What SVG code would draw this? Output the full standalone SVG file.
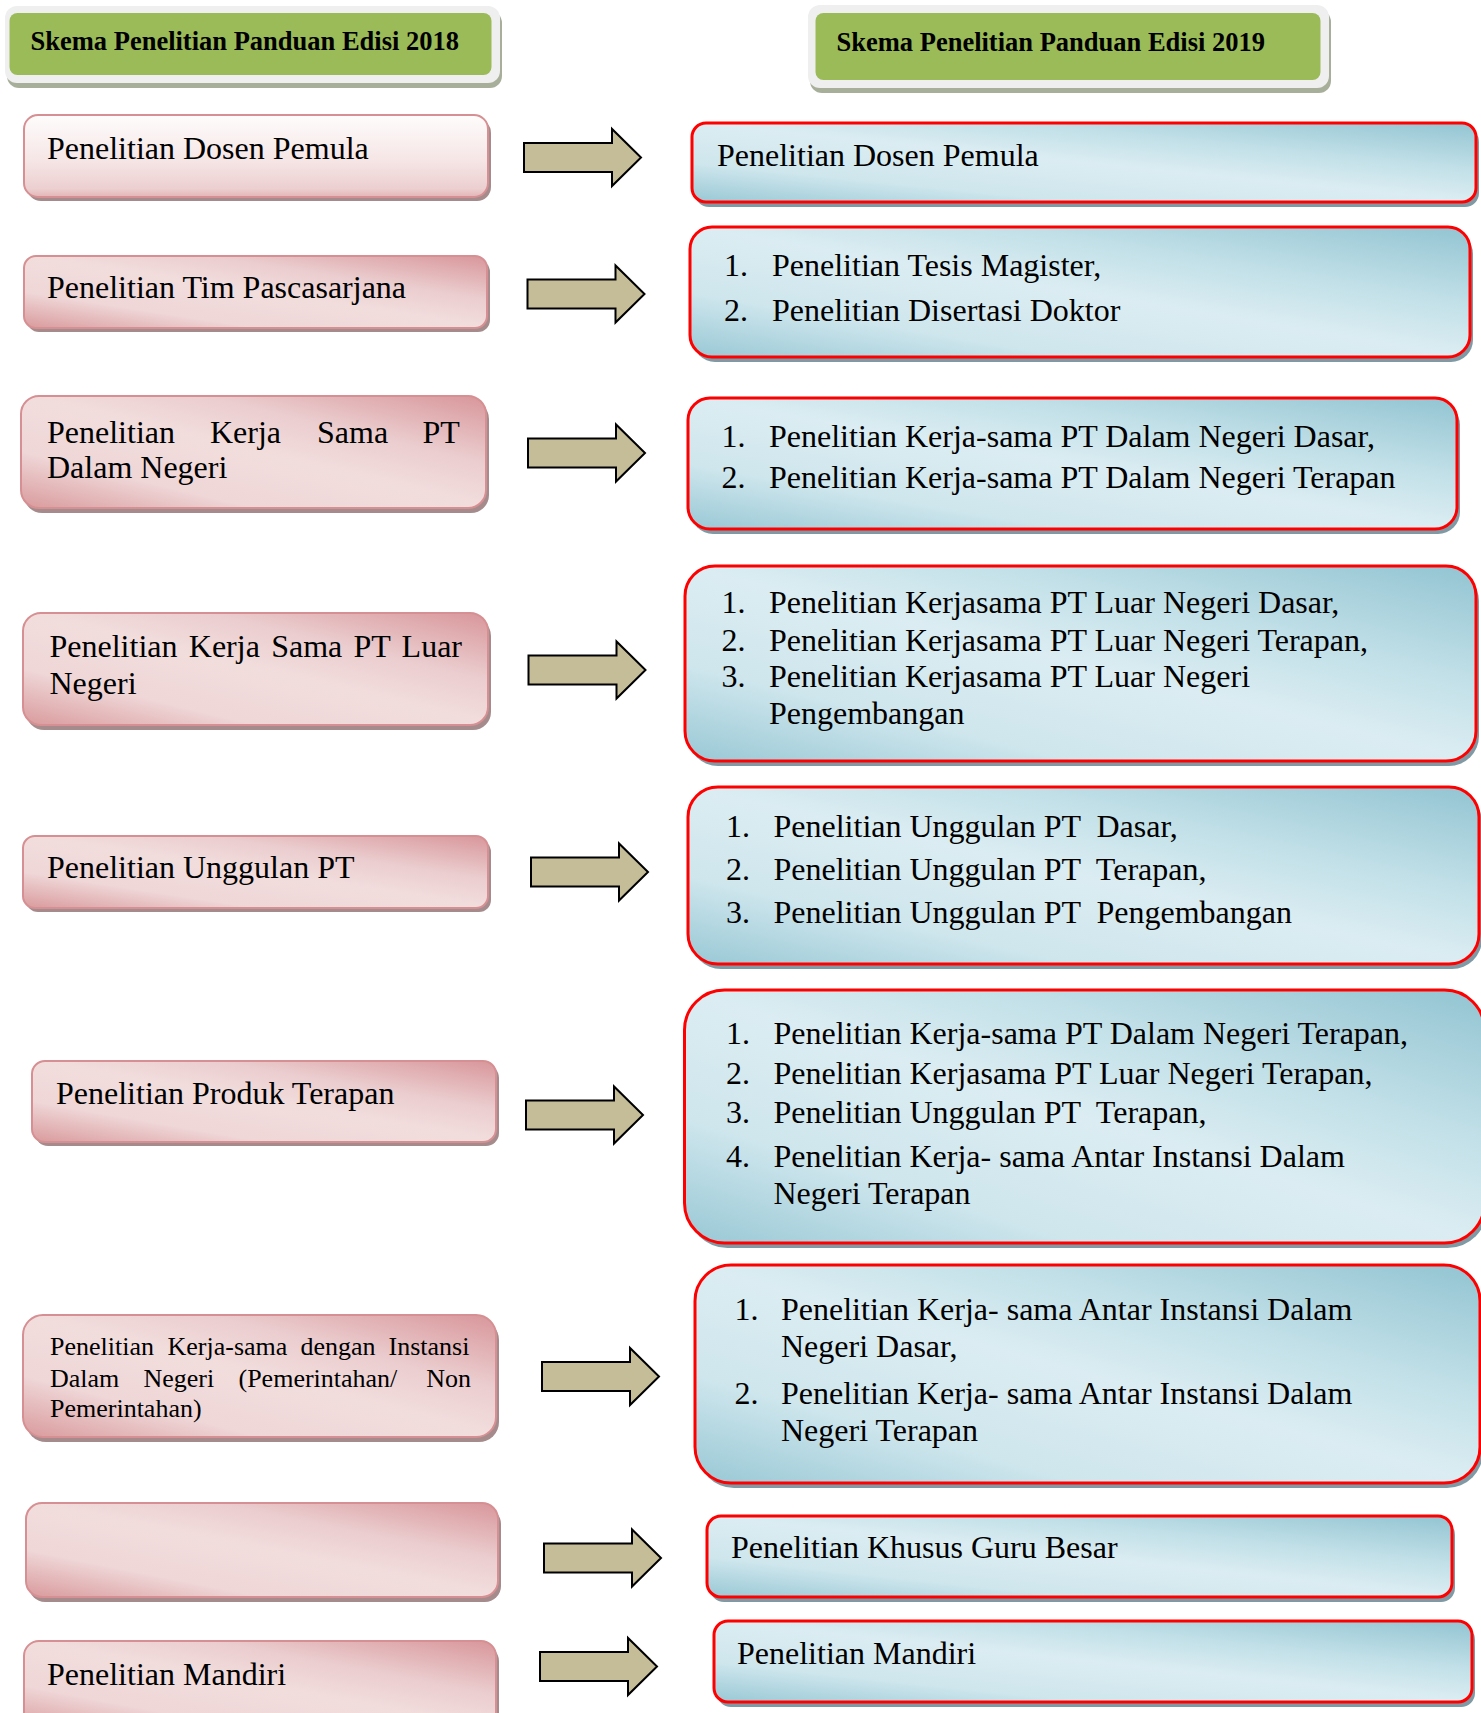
<svg xmlns="http://www.w3.org/2000/svg" width="1481" height="1713" viewBox="0 0 1481 1713">
<style>
text{font-family:"Liberation Serif","Times New Roman",serif;fill:#000}
.t{font-size:32px}
.s{font-size:26px}
.h{font-size:26.5px;font-weight:bold}
.pk{fill:url(#pink);stroke:#d68f92;stroke-width:2}
.pk1{fill:url(#pinkTop);stroke:#d68f92;stroke-width:2}
.pks{fill:#a58b8c}
.bl{fill:url(#blue);stroke:#ff0000;stroke-width:3}
.bls{fill:#7f9aa4}
.hf{fill:#efefef}
.hs{fill:#a7af9a}
.hg{fill:#9bbb59}
.arrow{fill:#c4bd97;stroke:#000;stroke-width:2;stroke-linejoin:miter}
</style>
<defs>
<linearGradient id="pink" x1="1" y1="0" x2="0" y2="1">
<stop offset="0" stop-color="#d8969a"/>
<stop offset="0.3" stop-color="#ebcdcf"/>
<stop offset="0.5" stop-color="#f2dddd"/>
<stop offset="0.75" stop-color="#efd6d7"/>
<stop offset="1" stop-color="#d99a9c"/>
</linearGradient>
<linearGradient id="pinkTop" x1="0" y1="0" x2="0" y2="1">
<stop offset="0" stop-color="#fefcfc"/>
<stop offset="0.55" stop-color="#f6e6e6"/>
<stop offset="0.9" stop-color="#eccfd0"/>
<stop offset="1" stop-color="#e3b5b7"/>
</linearGradient>
<linearGradient id="blue" x1="1" y1="0" x2="0" y2="1">
<stop offset="0" stop-color="#92c4d2"/>
<stop offset="0.3" stop-color="#c2e0e8"/>
<stop offset="0.5" stop-color="#dbedf2"/>
<stop offset="0.75" stop-color="#cfe6ed"/>
<stop offset="1" stop-color="#98c8d5"/>
</linearGradient>
</defs>
<rect width="1481" height="1713" fill="#ffffff"/>

<g id="header-2018">
<rect class="hs" x="7" y="11" width="495" height="77" rx="12"/>
<rect class="hf" x="5" y="6" width="495" height="77" rx="12"/>
<rect class="hg" x="9.5" y="13" width="482" height="62" rx="8"/>
<text class="h" x="30.5" y="50">Skema Penelitian Panduan Edisi 2018</text>
</g>
<g id="header-2019">
<rect class="hs" x="810" y="10" width="521" height="83" rx="12"/>
<rect class="hf" x="808" y="5" width="521" height="83" rx="12"/>
<rect class="hg" x="815.5" y="13" width="505" height="67" rx="8"/>
<text class="h" x="836.5" y="51">Skema Penelitian Panduan Edisi 2019</text>
</g>

<g id="left-1">
<rect class="pks" x="27" y="119" width="464" height="82" rx="14"/>
<rect class="pk1" x="24" y="115" width="464" height="82" rx="14"/>
<text class="t" x="47" y="159">Penelitian Dosen Pemula</text>
</g>
<g id="left-2">
<rect class="pks" x="27" y="260" width="463" height="72" rx="12"/>
<rect class="pk" x="24" y="256" width="463" height="72" rx="12"/>
<text class="t" x="47" y="298">Penelitian Tim Pascasarjana</text>
</g>
<g id="left-3">
<rect class="pks" x="24" y="401" width="465" height="112" rx="18"/>
<rect class="pk" x="21" y="396" width="465" height="112" rx="18"/>
<text class="t" y="442.5"><tspan x="47">Penelitian</tspan><tspan x="210">Kerja</tspan><tspan x="317">Sama</tspan><tspan x="422.5">PT</tspan></text>
<text class="t" x="47" y="478">Dalam Negeri</text>
</g>
<g id="left-4">
<rect class="pks" x="26" y="618" width="465" height="112" rx="18"/>
<rect class="pk" x="23" y="613" width="465" height="112" rx="18"/>
<text class="t" x="49.5" y="657" word-spacing="3.3">Penelitian Kerja Sama PT Luar</text>
<text class="t" x="49.5" y="694">Negeri</text>
</g>
<g id="left-5">
<rect class="pks" x="26" y="840" width="465" height="72" rx="12"/>
<rect class="pk" x="23" y="836" width="465" height="72" rx="12"/>
<text class="t" x="47" y="878">Penelitian Unggulan PT</text>
</g>
<g id="left-6">
<rect class="pks" x="35" y="1065" width="464" height="81" rx="13"/>
<rect class="pk" x="32" y="1061" width="464" height="81" rx="13"/>
<text class="t" x="56" y="1104">Penelitian Produk Terapan</text>
</g>
<g id="left-7">
<rect class="pks" x="26" y="1320" width="473" height="122" rx="20"/>
<rect class="pk" x="23" y="1315" width="473" height="122" rx="20"/>
<text class="s" y="1355"><tspan x="50">Penelitian</tspan><tspan x="167.5">Kerja-sama</tspan><tspan x="300.5">dengan</tspan><tspan x="388.5">Instansi</tspan></text>
<text class="s" y="1386.5"><tspan x="50">Dalam</tspan><tspan x="143.5">Negeri</tspan><tspan x="238.5">(Pemerintahan/</tspan><tspan x="426.3">Non</tspan></text>
<text class="s" x="50" y="1416.5">Pemerintahan)</text>
</g>
<g id="left-8">
<rect class="pks" x="29" y="1508" width="472" height="94" rx="16"/>
<rect class="pk" x="26" y="1503" width="472" height="94" rx="16"/>
</g>
<g id="left-9">
<rect class="pks" x="27" y="1646" width="472" height="90" rx="15"/>
<rect class="pk" x="24" y="1641" width="472" height="90" rx="15"/>
<text class="t" x="47" y="1685">Penelitian Mandiri</text>
</g>

<g id="connectors">
<path class="arrow" transform="translate(524,157.5)" d="M0,-14.5H88V-28.5L117,0L88,28.5V14.5H0Z"/>
<path class="arrow" transform="translate(527.5,294)" d="M0,-14.5H88V-28.5L117,0L88,28.5V14.5H0Z"/>
<path class="arrow" transform="translate(528,453)" d="M0,-14.5H88V-28.5L117,0L88,28.5V14.5H0Z"/>
<path class="arrow" transform="translate(528.5,670)" d="M0,-14.5H88V-28.5L117,0L88,28.5V14.5H0Z"/>
<path class="arrow" transform="translate(531,872)" d="M0,-14.5H88V-28.5L117,0L88,28.5V14.5H0Z"/>
<path class="arrow" transform="translate(526,1115)" d="M0,-14.5H88V-28.5L117,0L88,28.5V14.5H0Z"/>
<path class="arrow" transform="translate(542,1376.5)" d="M0,-14.5H88V-28.5L117,0L88,28.5V14.5H0Z"/>
<path class="arrow" transform="translate(544,1558)" d="M0,-14.5H88V-28.5L117,0L88,28.5V14.5H0Z"/>
<path class="arrow" transform="translate(540,1666.5)" d="M0,-14.5H88V-28.5L117,0L88,28.5V14.5H0Z"/>
</g>

<g id="right-1">
<rect class="bls" x="695" y="128" width="784" height="79" rx="14"/>
<rect class="bl" x="692" y="123" width="784" height="79" rx="14"/>
<text class="t" x="717" y="165.5">Penelitian Dosen Pemula</text>
</g>
<g id="right-2">
<rect class="bls" x="693" y="232" width="780" height="130" rx="22"/>
<rect class="bl" x="690" y="227" width="780" height="130" rx="22"/>
<text class="t" x="724" y="276">1.</text><text class="t" x="772" y="276">Penelitian Tesis Magister,</text>
<text class="t" x="724" y="320.5">2.</text><text class="t" x="772" y="320.5">Penelitian Disertasi Doktor</text>
</g>
<g id="right-3">
<rect class="bls" x="691" y="403" width="769" height="131" rx="22"/>
<rect class="bl" x="688" y="398" width="769" height="131" rx="22"/>
<text class="t" x="721.5" y="447">1.</text><text class="t" x="769" y="447">Penelitian Kerja-sama PT Dalam Negeri Dasar,</text>
<text class="t" x="721.5" y="488">2.</text><text class="t" x="769" y="488">Penelitian Kerja-sama PT Dalam Negeri Terapan</text>
</g>
<g id="right-4">
<rect class="bls" x="688" y="571" width="791" height="195" rx="30"/>
<rect class="bl" x="685" y="566" width="791" height="195" rx="30"/>
<text class="t" x="721.5" y="613">1.</text><text class="t" x="769" y="613">Penelitian Kerjasama PT Luar Negeri Dasar,</text>
<text class="t" x="721.5" y="651">2.</text><text class="t" x="769" y="651">Penelitian Kerjasama PT Luar Negeri Terapan,</text>
<text class="t" x="721.5" y="687">3.</text><text class="t" x="769" y="687">Penelitian Kerjasama PT Luar Negeri</text>
<text class="t" x="769" y="724">Pengembangan</text>
</g>
<g id="right-5">
<rect class="bls" x="691" y="792" width="791" height="177" rx="30"/>
<rect class="bl" x="688" y="787" width="791" height="177" rx="30"/>
<text class="t" x="726" y="836.5">1.</text><text class="t" x="773.5" y="836.5" xml:space="preserve">Penelitian Unggulan PT  Dasar,</text>
<text class="t" x="726" y="880">2.</text><text class="t" x="773.5" y="880" xml:space="preserve">Penelitian Unggulan PT  Terapan,</text>
<text class="t" x="726" y="922.5">3.</text><text class="t" x="773.5" y="922.5" xml:space="preserve">Penelitian Unggulan PT  Pengembangan</text>
</g>
<g id="right-6">
<rect class="bls" x="687.5" y="995" width="800" height="253" rx="40"/>
<rect class="bl" x="684.5" y="990" width="800" height="253" rx="40"/>
<text class="t" x="726" y="1043.5">1.</text><text class="t" x="773.5" y="1043.5">Penelitian Kerja-sama PT Dalam Negeri Terapan,</text>
<text class="t" x="726" y="1083.5">2.</text><text class="t" x="773.5" y="1083.5">Penelitian Kerjasama PT Luar Negeri Terapan,</text>
<text class="t" x="726" y="1122.5">3.</text><text class="t" x="773.5" y="1122.5" xml:space="preserve">Penelitian Unggulan PT  Terapan,</text>
<text class="t" x="726" y="1166.5">4.</text><text class="t" x="773.5" y="1166.5">Penelitian Kerja- sama Antar Instansi Dalam</text>
<text class="t" x="773.5" y="1203.5">Negeri Terapan</text>
</g>
<g id="right-7">
<rect class="bls" x="698" y="1270" width="785" height="218" rx="36"/>
<rect class="bl" x="695" y="1265" width="785" height="218" rx="36"/>
<text class="t" x="734.5" y="1320">1.</text><text class="t" x="781" y="1320">Penelitian Kerja- sama Antar Instansi Dalam</text>
<text class="t" x="781" y="1356.5">Negeri Dasar,</text>
<text class="t" x="734.5" y="1404">2.</text><text class="t" x="781" y="1404">Penelitian Kerja- sama Antar Instansi Dalam</text>
<text class="t" x="781" y="1440.5">Negeri Terapan</text>
</g>
<g id="right-8">
<rect class="bls" x="710" y="1521" width="745" height="81" rx="14"/>
<rect class="bl" x="707" y="1516" width="745" height="81" rx="14"/>
<text class="t" x="731" y="1558">Penelitian Khusus Guru Besar</text>
</g>
<g id="right-9">
<rect class="bls" x="717" y="1626" width="758" height="81" rx="14"/>
<rect class="bl" x="714" y="1621" width="758" height="81" rx="14"/>
<text class="t" x="737" y="1664">Penelitian Mandiri</text>
</g>
</svg>
